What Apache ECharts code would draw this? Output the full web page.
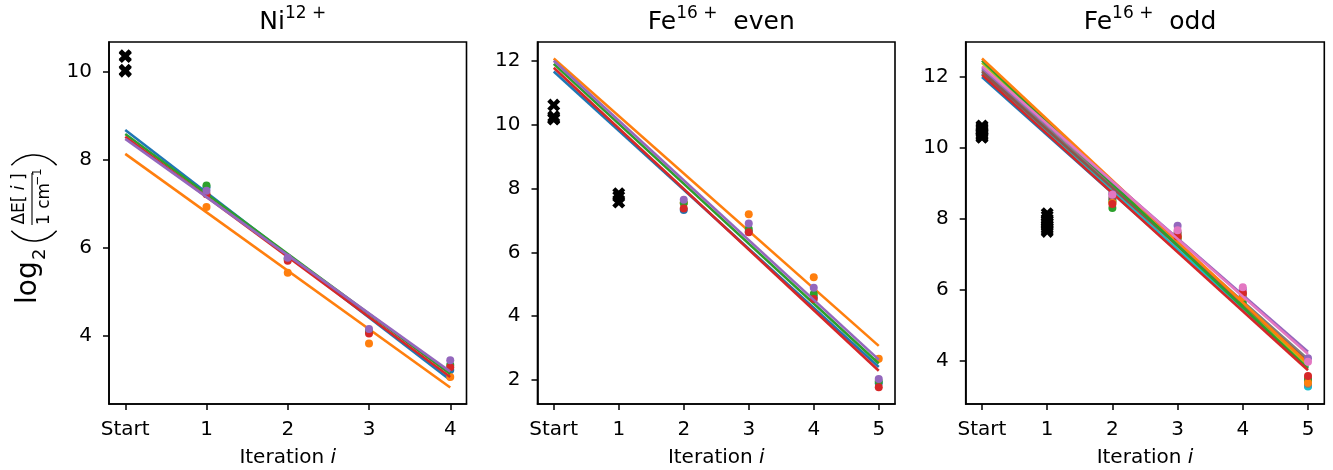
<!DOCTYPE html>
<html>
<head>
<meta charset="utf-8">
<script src="https://cdn.jsdelivr.net/npm/echarts@6/dist/echarts.min.js"></script>
<style>
  html, body { margin: 0; padding: 0; background: #fff; }
  #chart { width: 1333px; height: 470px; }
</style>
</head>
<body>
<div id="chart"></div>
<script>
  // matplotlib tab10 colours
  const TAB10 = ['#1f77b4', '#ff7f0e', '#2ca02c', '#d62728', '#9467bd',
                 '#8c564b', '#e377c2', '#7f7f7f', '#bcbd22', '#17becf']

  // ---- Ni12+ ----
  const niXTicks = [0, 1, 2, 3, 4]
  const niYTicks = [4, 6, 8, 10]
  const niCrossStart = [10.37, 10.35, 10.04, 10.02]
  const niIters = [1, 2, 3, 4]
  const niPoints = [
    [7.38, 5.76, 4.10, 3.23],
    [6.93, 5.44, 3.83, 3.07],
    [7.42, 5.75, 4.10, 3.34],
    [7.22, 5.71, 4.06, 3.29],
    [7.30, 5.78, 4.16, 3.45]
  ]
  // fit line value at Start and at the last iteration
  const niFit = [
    [8.68, 3.00],
    [8.14, 2.83],
    [8.59, 3.14],
    [8.53, 3.07],
    [8.48, 3.19]
  ]

  // ---- Fe16+ even ----
  const feXTicks = [0, 1, 2, 3, 4, 5]
  const feEvenYTicks = [2, 4, 6, 8, 10, 12]
  const feEvenCrossStart = [10.62, 10.26, 10.2, 10.18]
  const feEvenCross1 = [7.84, 7.75, 7.58]
  const feIters = [2, 3, 4, 5]
  const feEvenPoints = [
    [7.33, 6.65, 4.60, 1.90],
    [7.55, 7.20, 5.22, 2.67],
    [7.55, 6.73, 4.70, 1.95],
    [7.38, 6.63, 4.54, 1.77],
    [7.65, 6.91, 4.89, 2.03]
  ]
  const feEvenFit = [
    [11.67, 2.41],
    [12.08, 3.07],
    [11.91, 2.52],
    [11.79, 2.29],
    [12.01, 2.64]
  ]

  // ---- Fe16+ odd ----
  const feOddYTicks = [4, 6, 8, 10, 12]
  const feOddCrossStart = [10.62, 10.58, 10.54, 10.5, 10.47, 10.44, 10.4, 10.36, 10.32, 10.3]
  const feOddCross1 = [8.15, 8.08, 8.0, 7.95, 7.9, 7.85, 7.8, 7.75, 7.7, 7.65]
  const feOddPoints = [
    [8.50, 7.45, 5.75, 3.30],
    [8.45, 7.50, 5.80, 3.39],
    [8.31, 7.48, 5.67, 3.46],
    [8.42, 7.51, 5.92, 3.58],
    [8.70, 7.81, 6.02, 4.08],
    [8.60, 7.62, 5.90, 3.50],
    [8.68, 7.68, 6.08, 3.98],
    [8.73, 7.58, 5.85, 3.35],
    [8.50, 7.45, 5.70, 3.42],
    [8.54, 7.50, 5.75, 3.28]
  ]
  const feOddFit = [
    [12.00, 3.82],
    [12.52, 3.93],
    [12.46, 3.78],
    [12.06, 3.74],
    [12.25, 4.26],
    [12.15, 3.97],
    [12.30, 4.20],
    [12.20, 4.05],
    [12.40, 3.86],
    [12.10, 3.84]
  ]
  // drawing order (last on top)
  const feOddOrder = [0, 9, 8, 7, 5, 2, 1, 4, 3, 6]

  const FONT = '"DejaVu Sans", "Noto Sans", sans-serif'
  const CROSS = 'path://M2.4,0 L5,2.6 L7.6,0 L10,2.4 L7.4,5 L10,7.6 L7.6,10 L5,7.4 L2.4,10 L0,7.6 L2.6,5 L0,2.4 Z'

  const panels = [
    { left: 109, width: 357.5, xMin: -0.2, xMax: 4.2, yMin: 2.455, yMax: 10.682, xTicks: niXTicks, yTicks: niYTicks },
    { left: 537.5, width: 357.5, xMin: -0.25, xMax: 5.25, yMin: 1.248, yMax: 12.596, xTicks: feXTicks, yTicks: feEvenYTicks },
    { left: 965.7, width: 358.6, xMin: -0.25, xMax: 5.25, yMin: 2.789, yMax: 12.986, xTicks: feXTicks, yTicks: feOddYTicks }
  ]

  const grids = panels.map(p => ({
    left: p.left, top: 42, width: p.width, height: 362,
    outerBoundsMode: 'none', containLabel: false,
    show: true, borderColor: '#000', borderWidth: 1.6, backgroundColor: '#fff'
  }))

  const lineStyleBlack = { color: '#000', width: 1.6 }
  const tickStyle = { show: true, inside: false, length: 6, lineStyle: { color: '#000', width: 1.5 } }

  const xAxes = panels.map((p, i) => ({
    gridIndex: i, type: 'value', min: p.xMin, max: p.xMax,
    axisLine: { show: true, onZero: false, lineStyle: lineStyleBlack }, splitLine: { show: false },
    axisTick: Object.assign({ customValues: p.xTicks }, tickStyle),
    axisLabel: {
      customValues: p.xTicks, margin: 16, color: '#000', fontSize: 20, fontFamily: FONT,
      formatter: v => (v === 0 ? 'Start' : String(v))
    },
    name: '{n|Iteration }{i|i}', nameLocation: 'middle', nameGap: 44,
    nameTextStyle: {
      rich: {
        n: { fontSize: 20, fontFamily: FONT, color: '#000' },
        i: { fontSize: 20, fontFamily: FONT, fontStyle: 'italic', color: '#000' }
      }
    }
  }))

  const yAxes = panels.map((p, i) => ({
    gridIndex: i, type: 'value', min: p.yMin, max: p.yMax,
    axisLine: { show: true, onZero: false, lineStyle: lineStyleBlack }, splitLine: { show: false },
    axisTick: Object.assign({ customValues: p.yTicks }, tickStyle),
    axisLabel: { customValues: p.yTicks, margin: 17, color: '#000', fontSize: 20, fontFamily: FONT }
  }))

  const series = []
  function addCrosses (gi, x, vals) {
    series.push({
      type: 'scatter', xAxisIndex: gi, yAxisIndex: gi, symbol: CROSS, symbolSize: 13,
      itemStyle: { color: '#000', opacity: 1 }, z: 3,
      data: vals.map(v => [x, v])
    })
  }
  function addSeries (gi, iters, points, fit, xEnd, order) {
    order.forEach((k, n) => {
      series.push({
        type: 'scatter', xAxisIndex: gi, yAxisIndex: gi, symbolSize: 8,
        itemStyle: { color: TAB10[k], opacity: 1 }, z: 2 + n * 0.01,
        data: iters.map((x, j) => [x, points[k][j]])
      })
      series.push({
        type: 'line', xAxisIndex: gi, yAxisIndex: gi, showSymbol: false,
        lineStyle: { color: TAB10[k], width: 2.6 }, z: 2 + n * 0.01 + 0.005,
        data: [[0, fit[k][0]], [xEnd, fit[k][1]]]
      })
    })
  }

  addCrosses(0, 0, niCrossStart)
  addSeries(0, niIters, niPoints, niFit, 4, [0, 1, 2, 3, 4])
  addCrosses(1, 0, feEvenCrossStart)
  addCrosses(1, 1, feEvenCross1)
  addSeries(1, feIters, feEvenPoints, feEvenFit, 5, [0, 1, 2, 3, 4])
  addCrosses(2, 0, feOddCrossStart)
  addCrosses(2, 1, feOddCross1)
  addSeries(2, feIters, feOddPoints, feOddFit, 5, feOddOrder)

  function panelTitle (i, main, sup, rest) {
    const p = panels[i]
    return {
      text: '{a|' + main + '}{s|' + sup + '}' + (rest ? '{a|' + rest + '}' : ''),
      left: p.left + p.width / 2, top: -2, textAlign: 'center',
      textStyle: {
        fontWeight: 'normal',
        rich: {
          a: { fontSize: 25, fontFamily: FONT, fontWeight: 'normal', color: '#000', lineHeight: 32, verticalAlign: 'bottom' },
          s: { fontSize: 17, fontFamily: FONT, fontWeight: 'normal', color: '#000', lineHeight: 32, verticalAlign: 'top', padding: [2, 0, 0, 0] }
        }
      }
    }
  }

  const deg = Math.PI / 180
  const yLabel = {
    type: 'group', x: 0, y: 304, rotation: Math.PI / 2, silent: true,
    children: [
      { type: 'text', x: 0, y: 29, style: { text: 'log', font: '28px ' + FONT, fill: '#000', verticalAlign: 'middle' } },
      { type: 'text', x: 44, y: 40, style: { text: '2', font: '18px ' + FONT, fill: '#000', verticalAlign: 'middle' } },
      { type: 'arc', shape: { cx: 93, cy: 34, r: 30, startAngle: 131 * deg, endAngle: 229 * deg, clockwise: true },
        style: { stroke: '#000', lineWidth: 1.5, fill: null } },
      { type: 'text', x: 105, y: 20, style: {
        text: '{n|ΔE}{n|[ }{i|i}{n| ]}', fill: '#000', align: 'center', verticalAlign: 'middle',
        rich: {
          n: { font: '17px ' + FONT, fill: '#000' },
          i: { font: 'italic 17px ' + FONT, fill: '#000' }
        } } },
      { type: 'line', shape: { x1: 79, y1: 32, x2: 131, y2: 32 }, style: { stroke: '#000', lineWidth: 1.1 } },
      { type: 'text', x: 79, y: 45, style: { text: '1 cm', font: '17px ' + FONT, fill: '#000', verticalAlign: 'middle' } },
      { type: 'text', x: 118, y: 38, style: { text: '−1', font: '12px ' + FONT, fill: '#000', verticalAlign: 'middle' } },
      { type: 'arc', shape: { cx: 119, cy: 34, r: 30, startAngle: -49 * deg, endAngle: 49 * deg, clockwise: true },
        style: { stroke: '#000', lineWidth: 1.5, fill: null } }
    ]
  }

  const chart = echarts.init(document.getElementById('chart'))
  chart.setOption({
    animation: false,
    backgroundColor: '#fff',
    title: [
      panelTitle(0, 'Ni', '12 +'),
      panelTitle(1, 'Fe', '16 +', '  even'),
      panelTitle(2, 'Fe', '16 +', '  odd')
    ],
    grid: grids,
    xAxis: xAxes,
    yAxis: yAxes,
    series: series,
    graphic: [yLabel]
  })
</script>
</body>
</html>
